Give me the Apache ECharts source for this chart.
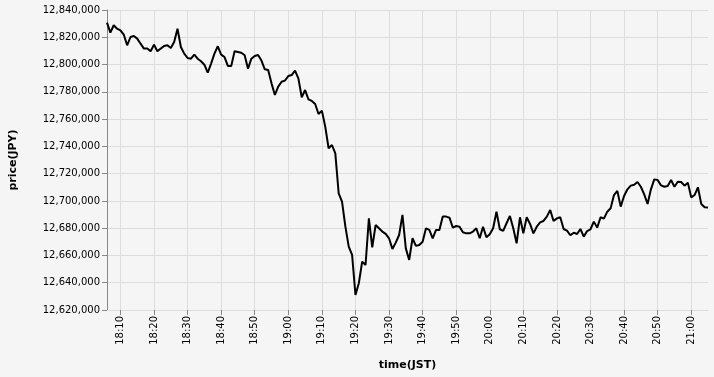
<!DOCTYPE html>
<html>
<head>
<meta charset="utf-8">
<script src="https://cdn.jsdelivr.net/npm/echarts@6/dist/echarts.min.js"></script>
<style>
html,body{margin:0;padding:0;background:#f5f5f5;}
#c{width:714px;height:377px;}
</style>
</head>
<body>
<div id="c"></div>
<script>
// start time 18:06 JST, one value per minute
const startTime = '18:06';
const prices = [
12830700,12823400,12828800,12826300,12825100,12821900,12814100,12820200,12820900,12819000,
12815300,12811700,12811700,12809700,12814600,12809700,12811700,12813600,12814100,12812100,
12816500,12826300,12812900,12808000,12804800,12804300,12807300,12804300,12802400,12799900,
12794000,12800700,12808000,12813400,12807300,12805500,12799000,12799000,12809700,12809200,
12808700,12806800,12797000,12804300,12806300,
12807000,12802900,12796500,12796000,12786200,12777700,12783800,12787400,12788200,12791600,
12792300,12795500,12789900,12776000,12781300,12774500,12773300,12771100,12763700,12766200,
12754500,12738600,12741000,12734900,12705600,12699500,12681100,12666500,12660400,12631000,
12639600,12655500,12653000,12687200,12666000,12682300,12679900,12677500,12675800,12672600,
12664800,12669400,12675000,12689700,12665200,12656700,12672600,12667000,12667700,12670100,
12679900,12678700,12672600,12678700,12678700,12688500,12688500,12687700,12680400,12681600,
12681100,12677000,12676200,12676200,12677500,12679900,12672600,12681100,12673300,12675500,
12679900,12692100,12679200,12678000,12683600,12689000,12679900,12668900,12688000,12676200,
12688000,12683100,12676200,12681100,12684300,12685300,12688500,12693300,12685300,12687200,
12688000,12679400,12678200,12674800,12676700,12675700,12679400,12673800,12677900,12679200,
12684800,12680400,12688000,12687000,12692100,12694600,12704300,12707300,12695800,12703600,
12708500,12711200,12711900,12713900,12710400,12704800,12697700,12708500,12715800,12715300,
12711400,12710400,12710900,12715300,12710400,12714100,12713900,12711200,12713400,12702600,
12704300,12710000,12697700,12695300,12695100
];
const yTicks = {min: 12620000, max: 12840000, step: 20000};
const xTickLabels = ['18:10','18:20','18:30','18:40','18:50','19:00','19:10','19:20','19:30',
  '19:40','19:50','20:00','20:10','20:20','20:30','20:40','20:50','21:00'];

// minutes since midnight
const toMin = s => { const p = s.split(':'); return +p[0] * 60 + (+p[1]); };
const pad = n => (n < 10 ? '0' : '') + n;
const toHM = m => pad(Math.floor(m / 60)) + ':' + pad(Math.round(m % 60));
const m0 = toMin(startTime);
const data = prices.map((v, i) => [m0 + i, v]);
const xTickValues = xTickLabels.map(toMin);
const fmtNum = v => String(v).replace(/\B(?=(\d{3})+(?!\d))/g, ',');

const chart = echarts.init(document.getElementById('c'));
chart.setOption({
  backgroundColor: '#f5f5f5',
  animation: false,
  grid: {left: 107, right: 6, top: 10, bottom: 67},
  xAxis: {
    type: 'value',
    min: data[0][0],
    max: data[data.length - 1][0],
    name: 'time(JST)',
    nameLocation: 'middle',
    nameGap: 50,
    nameTextStyle: {fontFamily: 'DejaVu Sans', fontSize: 11, fontWeight: 'bold', color: '#000'},
    axisLine: {show: true, onZero: false, lineStyle: {color: '#dddddd', width: 1}},
    axisTick: {show: true, length: 5, lineStyle: {color: '#888888'}, customValues: xTickValues},
    splitLine: {show: false},
    axisLabel: {
      rotate: 90,
      fontFamily: 'DejaVu Sans',
      fontSize: 10,
      color: '#000',
      margin: 6,
      hideOverlap: false,
      customValues: xTickValues,
      formatter: v => toHM(v)
    }
  },
  yAxis: {
    type: 'value',
    min: yTicks.min,
    max: yTicks.max,
    interval: yTicks.step,
    name: 'price(JPY)',
    nameLocation: 'middle',
    nameGap: 88,
    nameTextStyle: {fontFamily: 'DejaVu Sans', fontSize: 11, fontWeight: 'bold', color: '#000'},
    axisLine: {show: true, lineStyle: {color: '#888888', width: 1}},
    axisTick: {show: true, length: 5, lineStyle: {color: '#888888'}},
    splitLine: {show: true, lineStyle: {color: '#dddddd', width: 1}},
    axisLabel: {
      fontFamily: 'DejaVu Sans',
      fontSize: 10,
      color: '#000',
      margin: 7,
      formatter: v => fmtNum(v)
    }
  },
  series: [{
    type: 'line',
    data: data,
    showSymbol: false,
    symbol: 'none',
    lineStyle: {color: '#000', width: 2},
    itemStyle: {color: '#000'},
    z: 3,
    markLine: {
      silent: true,
      symbol: 'none',
      label: {show: false},
      lineStyle: {color: '#dddddd', width: 1, type: 'solid'},
      z: 1,
      data: xTickValues.map(v => ({xAxis: v}))
    }
  }]
});
</script>
</body>
</html>
